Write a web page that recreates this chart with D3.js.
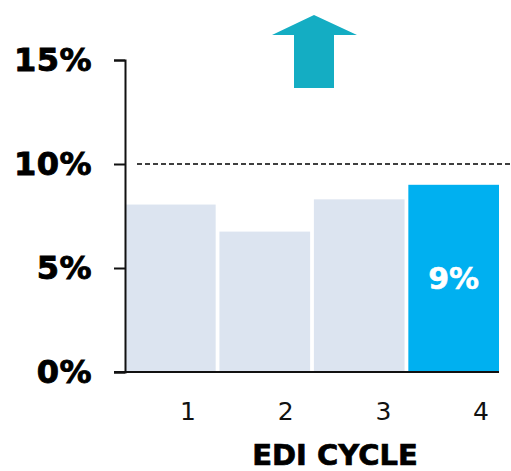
<html><head><meta charset='utf-8'>
<script src='https://d3js.org/d3.v7.min.js'></script>
<style>body{margin:0;background:#fff}</style>
</head><body>
<svg width="511" height="471"></svg>
<script>
// data
var cycles = ["1", "2", "3", "4"];
var rates = [8.05, 6.75, 8.3, 9.0];
var yTicks = [0, 5, 10, 15];
var target = 10;
var xTitle = "EDI CYCLE";

var svg = d3.select("svg");
var bold = "'DejaVu Sans', Verdana, sans-serif";

var x = d3.scaleBand().domain(cycles).range([125, 499]).paddingInner(0.04).paddingOuter(0);
var y = d3.scaleLinear().domain([0, 15]).range([372, 60]);
// tick labels sit off-centre in the original, so they get their own scale
var xl = d3.scalePoint().domain(cycles).range([188, 481]);

// bars
svg.selectAll("rect.bar")
    .data(rates)
    .enter()
    .append("rect")
    .attr("class", "bar")
    .attr("x", function(d, i){ return x(cycles[i]); })
    .attr("y", function(d){ return y(d); })
    .attr("width", x.bandwidth())
    .attr("height", function(d){ return y(0) - y(d); })
    .attr("fill", function(d, i){ return i == cycles.length - 1 ? "#00b0f0" : "#dce4f0"; });

// value label in the last bar
var last = cycles.length - 1;
svg.append("text")
    .attr("x", x(cycles[last]) + x.bandwidth() / 2)
    .attr("y", y(rates[last] / 2) + 11)
    .attr("text-anchor", "middle")
    .style("font-family", bold).style("font-weight", "bold").style("font-size", "30px")
    .attr("fill", "#fff").attr("stroke", "#fff").attr("stroke-width", 0.5)
    .text(Math.round(rates[last]) + "%");

// target line
svg.append("line")
    .attr("x1", 137).attr("x2", 511)
    .attr("y1", y(target)).attr("y2", y(target))
    .attr("stroke", "#000").attr("stroke-width", 1.3)
    .attr("stroke-dasharray", "5,3");

// y axis
var yAxis = d3.axisLeft(y).tickValues(yTicks).tickSize(11).tickPadding(22)
    .tickFormat(function(d){ return d + "%"; });
var gy = svg.append("g").attr("transform", "translate(125,0)").call(yAxis);
gy.select(".domain").attr("stroke", "#111").attr("stroke-width", 2);
gy.selectAll(".tick line").attr("stroke", "#111").attr("stroke-width", 2);
gy.selectAll(".tick text")
    .style("font-family", bold).style("font-weight", "bold").style("font-size", "32px")
    .style("letter-spacing", "0.5px")
    .attr("fill", "#000").attr("stroke", "#000").attr("stroke-width", 0.9);

// x axis baseline
svg.append("line")
    .attr("x1", 114).attr("x2", 499)
    .attr("y1", y(0)).attr("y2", y(0))
    .attr("stroke", "#111").attr("stroke-width", 2);

// x tick labels
svg.selectAll("text.xl")
    .data(cycles)
    .enter()
    .append("text")
    .attr("class", "xl")
    .attr("x", function(d){ return xl(d); })
    .attr("y", 420)
    .attr("text-anchor", "middle")
    .style("font-family", "'DejaVu Sans', sans-serif").style("font-size", "25px")
    .attr("fill", "#111")
    .text(function(d){ return d; });

svg.append("text")
    .attr("x", 335).attr("y", 465)
    .attr("text-anchor", "middle")
    .style("font-family", bold).style("font-weight", "bold").style("font-size", "29px")
    .attr("fill", "#000").attr("stroke", "#000").attr("stroke-width", 0.7)
    .text(xTitle);

// up arrow
svg.append("path")
    .attr("d", "M314,15 L357,35 L334,35 L334,88 L294,88 L294,35 L272,35 Z")
    .attr("fill", "#14adc3");
</script>
</body></html>
